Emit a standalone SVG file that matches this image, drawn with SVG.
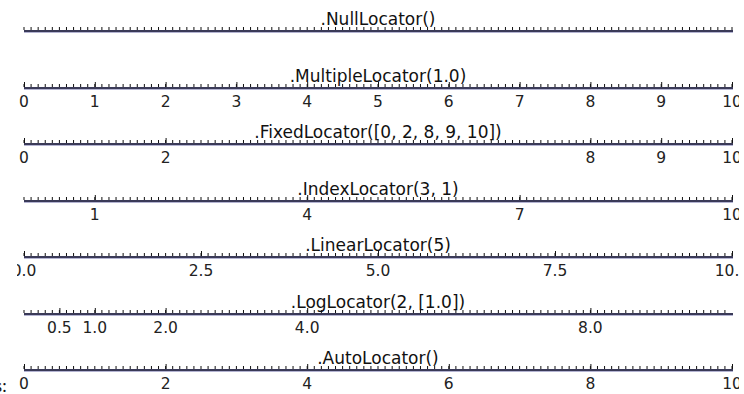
<svg xmlns="http://www.w3.org/2000/svg" width="744" height="394" viewBox="0 0 744 394">
<style>
.axis{stroke:#3a3a58;stroke-width:2;fill:none}
.axlo{stroke:#b4b4d2;stroke-width:1;fill:none}
.minor{stroke:#111;stroke-width:3;stroke-dasharray:1 6.08;fill:none}
.major{stroke:#111;stroke-width:1;fill:none}
.title{font-family:"DejaVu Sans",sans-serif;font-size:17px;fill:#111;text-anchor:middle}
.lbl{font-family:"DejaVu Sans",sans-serif;font-size:15.5px;fill:#222;text-anchor:middle}
</style>
<defs>
<clipPath id="clip"><rect x="17" y="0" width="722" height="394"/></clipPath>
</defs>
<rect width="744" height="394" fill="#fff"/>
<g clip-path="url(#clip)">
<g id="null">
<text class="title" x="378" y="25">.NullLocator()</text>
<line class="minor" x1="23.5" y1="28.5" x2="734" y2="28.5"/>
<line class="axis" x1="24" y1="31" x2="733" y2="31"/>
<line class="axlo" x1="24" y1="32.5" x2="733" y2="32.5"/>
</g>
<g id="multiple">
<text class="title" x="378" y="82">.MultipleLocator(1.0)</text>
<line class="minor" x1="23.5" y1="85.5" x2="734" y2="85.5"/>
<path class="major" d="M24.5 88v-6M95.3 88v-6M166.1 88v-6M236.9 88v-6M307.7 88v-6M378.5 88v-6M449.3 88v-6M520.1 88v-6M590.9 88v-6M661.7 88v-6M732.5 88v-6"/>
<line class="axis" x1="24" y1="88" x2="733" y2="88"/>
<line class="axlo" x1="24" y1="89.5" x2="733" y2="89.5"/>
<text class="lbl" x="24" y="107">0</text>
<text class="lbl" x="94.8" y="107">1</text>
<text class="lbl" x="165.6" y="107">2</text>
<text class="lbl" x="236.4" y="107">3</text>
<text class="lbl" x="307.2" y="107">4</text>
<text class="lbl" x="378" y="107">5</text>
<text class="lbl" x="448.8" y="107">6</text>
<text class="lbl" x="519.6" y="107">7</text>
<text class="lbl" x="590.4" y="107">8</text>
<text class="lbl" x="661.2" y="107">9</text>
<text class="lbl" x="732" y="107">10</text>
</g>
<g id="fixed">
<text class="title" x="378" y="138">.FixedLocator([0, 2, 8, 9, 10])</text>
<line class="minor" x1="23.5" y1="141.5" x2="734" y2="141.5"/>
<path class="major" d="M24.5 144v-6M166.1 144v-6M590.9 144v-6M661.7 144v-6M732.5 144v-6"/>
<line class="axis" x1="24" y1="144" x2="733" y2="144"/>
<line class="axlo" x1="24" y1="145.5" x2="733" y2="145.5"/>
<text class="lbl" x="24" y="163">0</text>
<text class="lbl" x="165.6" y="163">2</text>
<text class="lbl" x="590.4" y="163">8</text>
<text class="lbl" x="661.2" y="163">9</text>
<text class="lbl" x="732" y="163">10</text>
</g>
<g id="index">
<text class="title" x="378" y="195">.IndexLocator(3, 1)</text>
<line class="minor" x1="23.5" y1="198.5" x2="734" y2="198.5"/>
<path class="major" d="M95.3 201v-6M307.7 201v-6M520.1 201v-6M732.5 201v-6"/>
<line class="axis" x1="24" y1="201" x2="733" y2="201"/>
<line class="axlo" x1="24" y1="202.5" x2="733" y2="202.5"/>
<text class="lbl" x="94.8" y="220">1</text>
<text class="lbl" x="307.2" y="220">4</text>
<text class="lbl" x="519.6" y="220">7</text>
<text class="lbl" x="732" y="220">10</text>
</g>
<g id="linear">
<text class="title" x="378" y="251">.LinearLocator(5)</text>
<line class="minor" x1="23.5" y1="254.5" x2="734" y2="254.5"/>
<path class="major" d="M24.5 257v-6M201.5 257v-6M378.5 257v-6M555.5 257v-6M732.5 257v-6"/>
<line class="axis" x1="24" y1="257" x2="733" y2="257"/>
<line class="axlo" x1="24" y1="258.5" x2="733" y2="258.5"/>
<text class="lbl" x="24" y="276">0.0</text>
<text class="lbl" x="201" y="276">2.5</text>
<text class="lbl" x="378" y="276">5.0</text>
<text class="lbl" x="555" y="276">7.5</text>
<text class="lbl" x="732" y="276">10.0</text>
</g>
<g id="log">
<text class="title" x="378" y="308">.LogLocator(2, [1.0])</text>
<line class="minor" x1="23.5" y1="311.5" x2="727" y2="311.5"/>
<path class="major" d="M59.9 314v-6M95.3 314v-6M166.1 314v-6M307.7 314v-6M590.9 314v-6"/>
<line class="axis" x1="24" y1="314" x2="733" y2="314"/>
<line class="axlo" x1="24" y1="315.5" x2="733" y2="315.5"/>
<text class="lbl" x="59.4" y="333">0.5</text>
<text class="lbl" x="94.8" y="333">1.0</text>
<text class="lbl" x="165.6" y="333">2.0</text>
<text class="lbl" x="307.2" y="333">4.0</text>
<text class="lbl" x="590.4" y="333">8.0</text>
</g>
<g id="auto">
<text class="title" x="378" y="364">.AutoLocator()</text>
<line class="minor" x1="23.5" y1="367.5" x2="734" y2="367.5"/>
<path class="major" d="M24.5 370v-6M166.1 370v-6M307.7 370v-6M449.3 370v-6M590.9 370v-6M732.5 370v-6"/>
<line class="axis" x1="24" y1="370" x2="733" y2="370"/>
<line class="axlo" x1="24" y1="371.5" x2="733" y2="371.5"/>
<text class="lbl" x="24" y="389">0</text>
<text class="lbl" x="165.6" y="389">2</text>
<text class="lbl" x="307.2" y="389">4</text>
<text class="lbl" x="448.8" y="389">6</text>
<text class="lbl" x="590.4" y="389">8</text>
<text class="lbl" x="732" y="389">10</text>
</g>
</g>
<text x="-5" y="392" font-family="Liberation Serif, serif" font-size="18" fill="#111">s:</text>
</svg>
